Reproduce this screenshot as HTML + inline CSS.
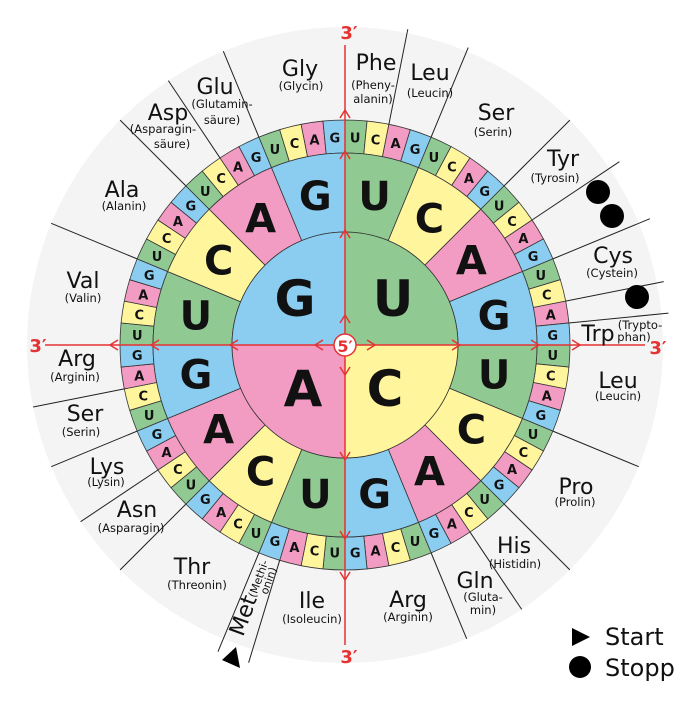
<!DOCTYPE html>
<html><head><meta charset="utf-8"><style>html,body{margin:0;padding:0;background:#fff}svg{display:block}text{font-family:"DejaVu Sans","Liberation Sans",sans-serif}</style></head><body>
<svg width="687" height="705" viewBox="0 0 687 705" xmlns="http://www.w3.org/2000/svg">
<defs>
<path id="q" d="M0,0 L0,-113 A113,113 0 0 1 113,0 Z"/>
<path id="s2" d="M0,-113 L0,-192 A192,192 0 0 1 73.475,-177.385 L43.243,-104.398 A113,113 0 0 0 0,-113 Z"/>
<path id="s3" d="M0,-192 L0,-225 A225,225 0 0 1 22.054,-223.917 L18.819,-191.076 A192,192 0 0 0 0,-192 Z"/>
</defs>
<g transform="translate(345,345)">
<circle r="318" fill="#f4f4f4"/>
<g stroke="#222" stroke-width="1">
<line y1="-225" y2="-322" transform="rotate(11.25)"/><line y1="-225" y2="-322" transform="rotate(22.5)"/><line y1="-225" y2="-318" transform="rotate(45)"/><line y1="-225" y2="-330" transform="rotate(56.25)"/><line y1="-225" y2="-330" transform="rotate(67.5)"/><line y1="-225" y2="-325" transform="rotate(78.75)"/><line y1="-225" y2="-325" transform="rotate(84.375)"/><line y1="-225" y2="-318" transform="rotate(112.5)"/><line y1="-225" y2="-318" transform="rotate(135)"/><line y1="-225" y2="-318" transform="rotate(146.25)"/><line y1="-225" y2="-318" transform="rotate(157.5)"/><line y1="-225" y2="-332" transform="rotate(196.875)"/><line y1="-225" y2="-332" transform="rotate(202.5)"/><line y1="-225" y2="-318" transform="rotate(225)"/><line y1="-225" y2="-318" transform="rotate(236.25)"/><line y1="-225" y2="-318" transform="rotate(247.5)"/><line y1="-225" y2="-318" transform="rotate(258.75)"/><line y1="-225" y2="-318" transform="rotate(292.5)"/><line y1="-225" y2="-318" transform="rotate(315)"/><line y1="-225" y2="-318" transform="rotate(326.25)"/><line y1="-225" y2="-318" transform="rotate(337.5)"/>
</g>
<g stroke="#333" stroke-width="0.8">
<use href="#s3" fill="#90c992" transform="rotate(0)"/><use href="#s3" fill="#fff59c" transform="rotate(5.625)"/><use href="#s3" fill="#f29cc3" transform="rotate(11.25)"/><use href="#s3" fill="#8acdf0" transform="rotate(16.875)"/>
<use href="#s3" fill="#90c992" transform="rotate(22.5)"/><use href="#s3" fill="#fff59c" transform="rotate(28.125)"/><use href="#s3" fill="#f29cc3" transform="rotate(33.75)"/><use href="#s3" fill="#8acdf0" transform="rotate(39.375)"/>
<use href="#s3" fill="#90c992" transform="rotate(45)"/><use href="#s3" fill="#fff59c" transform="rotate(50.625)"/><use href="#s3" fill="#f29cc3" transform="rotate(56.25)"/><use href="#s3" fill="#8acdf0" transform="rotate(61.875)"/>
<use href="#s3" fill="#90c992" transform="rotate(67.5)"/><use href="#s3" fill="#fff59c" transform="rotate(73.125)"/><use href="#s3" fill="#f29cc3" transform="rotate(78.75)"/><use href="#s3" fill="#8acdf0" transform="rotate(84.375)"/>
<use href="#s3" fill="#90c992" transform="rotate(90)"/><use href="#s3" fill="#fff59c" transform="rotate(95.625)"/><use href="#s3" fill="#f29cc3" transform="rotate(101.25)"/><use href="#s3" fill="#8acdf0" transform="rotate(106.875)"/>
<use href="#s3" fill="#90c992" transform="rotate(112.5)"/><use href="#s3" fill="#fff59c" transform="rotate(118.125)"/><use href="#s3" fill="#f29cc3" transform="rotate(123.75)"/><use href="#s3" fill="#8acdf0" transform="rotate(129.375)"/>
<use href="#s3" fill="#90c992" transform="rotate(135)"/><use href="#s3" fill="#fff59c" transform="rotate(140.625)"/><use href="#s3" fill="#f29cc3" transform="rotate(146.25)"/><use href="#s3" fill="#8acdf0" transform="rotate(151.875)"/>
<use href="#s3" fill="#90c992" transform="rotate(157.5)"/><use href="#s3" fill="#fff59c" transform="rotate(163.125)"/><use href="#s3" fill="#f29cc3" transform="rotate(168.75)"/><use href="#s3" fill="#8acdf0" transform="rotate(174.375)"/>
<use href="#s3" fill="#90c992" transform="rotate(180)"/><use href="#s3" fill="#fff59c" transform="rotate(185.625)"/><use href="#s3" fill="#f29cc3" transform="rotate(191.25)"/><use href="#s3" fill="#8acdf0" transform="rotate(196.875)"/>
<use href="#s3" fill="#90c992" transform="rotate(202.5)"/><use href="#s3" fill="#fff59c" transform="rotate(208.125)"/><use href="#s3" fill="#f29cc3" transform="rotate(213.75)"/><use href="#s3" fill="#8acdf0" transform="rotate(219.375)"/>
<use href="#s3" fill="#90c992" transform="rotate(225)"/><use href="#s3" fill="#fff59c" transform="rotate(230.625)"/><use href="#s3" fill="#f29cc3" transform="rotate(236.25)"/><use href="#s3" fill="#8acdf0" transform="rotate(241.875)"/>
<use href="#s3" fill="#90c992" transform="rotate(247.5)"/><use href="#s3" fill="#fff59c" transform="rotate(253.125)"/><use href="#s3" fill="#f29cc3" transform="rotate(258.75)"/><use href="#s3" fill="#8acdf0" transform="rotate(264.375)"/>
<use href="#s3" fill="#90c992" transform="rotate(270)"/><use href="#s3" fill="#fff59c" transform="rotate(275.625)"/><use href="#s3" fill="#f29cc3" transform="rotate(281.25)"/><use href="#s3" fill="#8acdf0" transform="rotate(286.875)"/>
<use href="#s3" fill="#90c992" transform="rotate(292.5)"/><use href="#s3" fill="#fff59c" transform="rotate(298.125)"/><use href="#s3" fill="#f29cc3" transform="rotate(303.75)"/><use href="#s3" fill="#8acdf0" transform="rotate(309.375)"/>
<use href="#s3" fill="#90c992" transform="rotate(315)"/><use href="#s3" fill="#fff59c" transform="rotate(320.625)"/><use href="#s3" fill="#f29cc3" transform="rotate(326.25)"/><use href="#s3" fill="#8acdf0" transform="rotate(331.875)"/>
<use href="#s3" fill="#90c992" transform="rotate(337.5)"/><use href="#s3" fill="#fff59c" transform="rotate(343.125)"/><use href="#s3" fill="#f29cc3" transform="rotate(348.75)"/><use href="#s3" fill="#8acdf0" transform="rotate(354.375)"/>
<use href="#s2" fill="#90c992" transform="rotate(0)"/><use href="#s2" fill="#fff59c" transform="rotate(22.5)"/><use href="#s2" fill="#f29cc3" transform="rotate(45)"/><use href="#s2" fill="#8acdf0" transform="rotate(67.5)"/>
<use href="#s2" fill="#90c992" transform="rotate(90)"/><use href="#s2" fill="#fff59c" transform="rotate(112.5)"/><use href="#s2" fill="#f29cc3" transform="rotate(135)"/><use href="#s2" fill="#8acdf0" transform="rotate(157.5)"/>
<use href="#s2" fill="#90c992" transform="rotate(180)"/><use href="#s2" fill="#fff59c" transform="rotate(202.5)"/><use href="#s2" fill="#f29cc3" transform="rotate(225)"/><use href="#s2" fill="#8acdf0" transform="rotate(247.5)"/>
<use href="#s2" fill="#90c992" transform="rotate(270)"/><use href="#s2" fill="#fff59c" transform="rotate(292.5)"/><use href="#s2" fill="#f29cc3" transform="rotate(315)"/><use href="#s2" fill="#8acdf0" transform="rotate(337.5)"/>
<use href="#q" fill="#90c992" transform="rotate(0)"/><use href="#q" fill="#fff59c" transform="rotate(90)"/><use href="#q" fill="#f29cc3" transform="rotate(180)"/><use href="#q" fill="#8acdf0" transform="rotate(270)"/>
</g>
<g font-size="13" font-weight="bold" text-anchor="middle" fill="#111">
<text dy="5" transform="rotate(2.8125) translate(0,-208) rotate(-2.8125)">U</text><text dy="5" transform="rotate(8.4375) translate(0,-208) rotate(-8.4375)">C</text><text dy="5" transform="rotate(14.0625) translate(0,-208) rotate(-14.0625)">A</text><text dy="5" transform="rotate(19.6875) translate(0,-208) rotate(-19.6875)">G</text>
<text dy="5" transform="rotate(25.3125) translate(0,-208) rotate(-25.3125)">U</text><text dy="5" transform="rotate(30.9375) translate(0,-208) rotate(-30.9375)">C</text><text dy="5" transform="rotate(36.5625) translate(0,-208) rotate(-36.5625)">A</text><text dy="5" transform="rotate(42.1875) translate(0,-208) rotate(-42.1875)">G</text>
<text dy="5" transform="rotate(47.8125) translate(0,-208) rotate(-47.8125)">U</text><text dy="5" transform="rotate(53.4375) translate(0,-208) rotate(-53.4375)">C</text><text dy="5" transform="rotate(59.0625) translate(0,-208) rotate(-59.0625)">A</text><text dy="5" transform="rotate(64.6875) translate(0,-208) rotate(-64.6875)">G</text>
<text dy="5" transform="rotate(70.3125) translate(0,-208) rotate(-70.3125)">U</text><text dy="5" transform="rotate(75.9375) translate(0,-208) rotate(-75.9375)">C</text><text dy="5" transform="rotate(81.5625) translate(0,-208) rotate(-81.5625)">A</text><text dy="5" transform="rotate(87.1875) translate(0,-208) rotate(-87.1875)">G</text>
<text dy="5" transform="rotate(92.8125) translate(0,-208) rotate(-92.8125)">U</text><text dy="5" transform="rotate(98.4375) translate(0,-208) rotate(-98.4375)">C</text><text dy="5" transform="rotate(104.0625) translate(0,-208) rotate(-104.0625)">A</text><text dy="5" transform="rotate(109.6875) translate(0,-208) rotate(-109.6875)">G</text>
<text dy="5" transform="rotate(115.3125) translate(0,-208) rotate(-115.3125)">U</text><text dy="5" transform="rotate(120.9375) translate(0,-208) rotate(-120.9375)">C</text><text dy="5" transform="rotate(126.5625) translate(0,-208) rotate(-126.5625)">A</text><text dy="5" transform="rotate(132.1875) translate(0,-208) rotate(-132.1875)">G</text>
<text dy="5" transform="rotate(137.8125) translate(0,-208) rotate(-137.8125)">U</text><text dy="5" transform="rotate(143.4375) translate(0,-208) rotate(-143.4375)">C</text><text dy="5" transform="rotate(149.0625) translate(0,-208) rotate(-149.0625)">A</text><text dy="5" transform="rotate(154.6875) translate(0,-208) rotate(-154.6875)">G</text>
<text dy="5" transform="rotate(160.3125) translate(0,-208) rotate(-160.3125)">U</text><text dy="5" transform="rotate(165.9375) translate(0,-208) rotate(-165.9375)">C</text><text dy="5" transform="rotate(171.5625) translate(0,-208) rotate(-171.5625)">A</text><text dy="5" transform="rotate(177.1875) translate(0,-208) rotate(-177.1875)">G</text>
<text dy="5" transform="rotate(182.8125) translate(0,-208) rotate(-182.8125)">U</text><text dy="5" transform="rotate(188.4375) translate(0,-208) rotate(-188.4375)">C</text><text dy="5" transform="rotate(194.0625) translate(0,-208) rotate(-194.0625)">A</text><text dy="5" transform="rotate(199.6875) translate(0,-208) rotate(-199.6875)">G</text>
<text dy="5" transform="rotate(205.3125) translate(0,-208) rotate(-205.3125)">U</text><text dy="5" transform="rotate(210.9375) translate(0,-208) rotate(-210.9375)">C</text><text dy="5" transform="rotate(216.5625) translate(0,-208) rotate(-216.5625)">A</text><text dy="5" transform="rotate(222.1875) translate(0,-208) rotate(-222.1875)">G</text>
<text dy="5" transform="rotate(227.8125) translate(0,-208) rotate(-227.8125)">U</text><text dy="5" transform="rotate(233.4375) translate(0,-208) rotate(-233.4375)">C</text><text dy="5" transform="rotate(239.0625) translate(0,-208) rotate(-239.0625)">A</text><text dy="5" transform="rotate(244.6875) translate(0,-208) rotate(-244.6875)">G</text>
<text dy="5" transform="rotate(250.3125) translate(0,-208) rotate(-250.3125)">U</text><text dy="5" transform="rotate(255.9375) translate(0,-208) rotate(-255.9375)">C</text><text dy="5" transform="rotate(261.5625) translate(0,-208) rotate(-261.5625)">A</text><text dy="5" transform="rotate(267.1875) translate(0,-208) rotate(-267.1875)">G</text>
<text dy="5" transform="rotate(272.8125) translate(0,-208) rotate(-272.8125)">U</text><text dy="5" transform="rotate(278.4375) translate(0,-208) rotate(-278.4375)">C</text><text dy="5" transform="rotate(284.0625) translate(0,-208) rotate(-284.0625)">A</text><text dy="5" transform="rotate(289.6875) translate(0,-208) rotate(-289.6875)">G</text>
<text dy="5" transform="rotate(295.3125) translate(0,-208) rotate(-295.3125)">U</text><text dy="5" transform="rotate(300.9375) translate(0,-208) rotate(-300.9375)">C</text><text dy="5" transform="rotate(306.5625) translate(0,-208) rotate(-306.5625)">A</text><text dy="5" transform="rotate(312.1875) translate(0,-208) rotate(-312.1875)">G</text>
<text dy="5" transform="rotate(317.8125) translate(0,-208) rotate(-317.8125)">U</text><text dy="5" transform="rotate(323.4375) translate(0,-208) rotate(-323.4375)">C</text><text dy="5" transform="rotate(329.0625) translate(0,-208) rotate(-329.0625)">A</text><text dy="5" transform="rotate(334.6875) translate(0,-208) rotate(-334.6875)">G</text>
<text dy="5" transform="rotate(340.3125) translate(0,-208) rotate(-340.3125)">U</text><text dy="5" transform="rotate(345.9375) translate(0,-208) rotate(-345.9375)">C</text><text dy="5" transform="rotate(351.5625) translate(0,-208) rotate(-351.5625)">A</text><text dy="5" transform="rotate(357.1875) translate(0,-208) rotate(-357.1875)">G</text>
</g>
<g font-size="40" font-weight="bold" text-anchor="middle" fill="#111">
<text dy="14" transform="rotate(11.25) translate(0,-152) rotate(-11.25)">U</text><text dy="14" transform="rotate(33.75) translate(0,-152) rotate(-33.75)">C</text><text dy="14" transform="rotate(56.25) translate(0,-152) rotate(-56.25)">A</text><text dy="14" transform="rotate(78.75) translate(0,-152) rotate(-78.75)">G</text>
<text dy="14" transform="rotate(101.25) translate(0,-152) rotate(-101.25)">U</text><text dy="14" transform="rotate(123.75) translate(0,-152) rotate(-123.75)">C</text><text dy="14" transform="rotate(146.25) translate(0,-152) rotate(-146.25)">A</text><text dy="14" transform="rotate(168.75) translate(0,-152) rotate(-168.75)">G</text>
<text dy="14" transform="rotate(191.25) translate(0,-152) rotate(-191.25)">U</text><text dy="14" transform="rotate(213.75) translate(0,-152) rotate(-213.75)">C</text><text dy="14" transform="rotate(236.25) translate(0,-152) rotate(-236.25)">A</text><text dy="14" transform="rotate(258.75) translate(0,-152) rotate(-258.75)">G</text>
<text dy="14" transform="rotate(281.25) translate(0,-152) rotate(-281.25)">U</text><text dy="14" transform="rotate(303.75) translate(0,-152) rotate(-303.75)">C</text><text dy="14" transform="rotate(326.25) translate(0,-152) rotate(-326.25)">A</text><text dy="14" transform="rotate(348.75) translate(0,-152) rotate(-348.75)">G</text>
</g>
<g font-size="50" font-weight="bold" text-anchor="middle" fill="#111">
<text x="-50" y="-29">G</text><text x="48" y="-29">U</text><text x="-42" y="61">A</text><text x="40" y="61">C</text>
</g>
<g stroke="#e53333" stroke-width="1.5" fill="none">
<line x1="0" y1="0" x2="0" y2="-300"/><line x1="0" y1="0" x2="0" y2="300"/><line x1="0" y1="0" x2="-300" y2="0"/><line x1="0" y1="0" x2="300" y2="0"/>
<g id="ar"><polyline points="-5,-22 0,-30 5,-22"/><polyline points="-5,-107 0,-115 5,-107"/><polyline points="-5,-186 0,-194 5,-186"/><polyline points="-5,-227 0,-235 5,-227"/></g>
<use href="#ar" transform="rotate(90)"/><use href="#ar" transform="rotate(180)"/><use href="#ar" transform="rotate(270)"/>
</g>
<circle r="11" fill="#fff" stroke="#e53333" stroke-width="1.5"/>
<text x="0" y="7" font-size="16" font-weight="bold" text-anchor="middle" fill="#e53333">5′</text>
<g font-size="18" font-weight="bold" fill="#e53333" text-anchor="middle">
<text x="4" y="-306">3′</text><text x="4" y="318">3′</text><text x="-307" y="7">3′</text><text x="313" y="9">3′</text>
</g>
<circle cx="253" cy="-153" r="12" fill="#000"/><circle cx="267" cy="-129" r="12" fill="#000"/><circle cx="292" cy="-48" r="12" fill="#000"/>
</g>
<polygon points="222,660 236,647 240,668" fill="#000"/>
<g text-anchor="middle" fill="#111">
<g font-size="22">
<text x="376" y="70">Phe</text><text x="430" y="80">Leu</text><text x="496" y="120">Ser</text><text x="563" y="166">Tyr</text><text x="613" y="263">Cys</text><text x="598" y="341">Trp</text><text x="618" y="388">Leu</text><text x="576" y="494">Pro</text><text x="514" y="553">His</text><text x="475" y="588">Gln</text><text x="408" y="607">Arg</text><text x="312" y="608">Ile</text><text x="192" y="574">Thr</text><text x="137" y="517">Asn</text><text x="107" y="474">Lys</text><text x="85" y="421">Ser</text><text x="77" y="366">Arg</text><text x="83" y="288">Val</text><text x="122" y="197">Ala</text><text x="168" y="120">Asp</text><text x="215" y="94">Glu</text><text x="300" y="76">Gly</text>
<text transform="translate(250,618) rotate(-70)">Met</text>
</g>
<g font-size="11.5">
<text x="373" y="89">(Pheny-</text><text x="373" y="103">alanin)</text><text x="430" y="97">(Leucin)</text><text x="493" y="136">(Serin)</text><text x="555" y="182">(Tyrosin)</text><text x="612" y="277">(Cystein)</text><text x="640" y="329">(Trypto-</text><text x="634" y="341">phan)</text><text x="618" y="400">(Leucin)</text><text x="575" y="506">(Prolin)</text><text x="515" y="568">(Histidin)</text><text x="483" y="601">(Gluta-</text><text x="483" y="614">min)</text><text x="408" y="621">(Arginin)</text><text x="312" y="623">(Isoleucin)</text><text x="197" y="589">(Threonin)</text><text x="131" y="532">(Asparagin)</text><text x="106" y="486">(Lysin)</text><text x="81" y="436">(Serin)</text><text x="75" y="381">(Arginin)</text><text x="83" y="302">(Valin)</text><text x="124" y="210">(Alanin)</text><text x="163" y="133">(Asparagin-</text><text x="172" y="148">säure)</text><text x="222" y="108">(Glutamin-</text><text x="222" y="124">säure)</text><text x="301" y="90">(Glycin)</text>
<text transform="translate(262,580) rotate(-70)" font-size="11">(Methi-</text><text transform="translate(272,582) rotate(-70)" font-size="11">onin)</text>
</g>
</g>
<polygon points="572,628 590,637 572,646" fill="#000"/>
<circle cx="580" cy="667" r="11" fill="#000"/>
<text x="605" y="645" font-size="24" fill="#111">Start</text>
<text x="605" y="676" font-size="24" fill="#111">Stopp</text>
</svg>
</body></html>
